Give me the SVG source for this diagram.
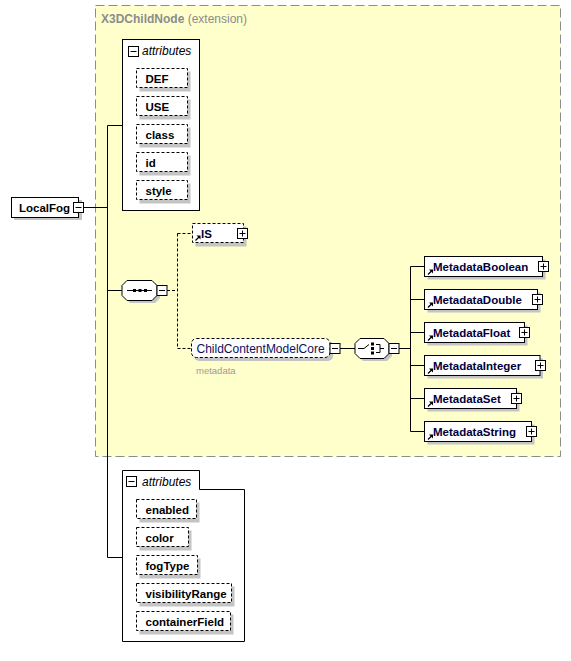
<svg xmlns="http://www.w3.org/2000/svg" width="571" height="661" viewBox="0 0 571 661">
<style>
.bg{fill:#fff}
.box{fill:#fff;stroke:#000;stroke-width:1}
.dbox{fill:#fff;stroke:#000;stroke-width:1;stroke-dasharray:3,2}
.sh{fill:#c4c4c4}
.ln{fill:none;stroke:#000;stroke-width:1}
.dl{fill:none;stroke:#000;stroke-width:1;stroke-dasharray:3,2}
.ic{fill:#fff;stroke:#000;stroke-width:1}
.b{font-family:"Liberation Sans",Arial,sans-serif;font-weight:bold;font-size:11.5px;fill:#000}
.n{font-family:"Liberation Sans",Arial,sans-serif;font-weight:bold;font-size:11.5px;fill:#00003c}
.it{font-family:"Liberation Sans",Arial,sans-serif;font-style:italic;font-size:12px;fill:#000}
</style>
<defs>
<g id="minus"><rect class="ic" x="0" y="0" width="10" height="10"/><path class="ln" d="M2,5H8"/></g>
<g id="plus"><rect class="ic" x="0" y="0" width="10" height="10"/><path class="ln" d="M2,5H8M5,2V8"/></g>
<g id="ref"><path d="M2.5,5.5L6,2" stroke="#000" stroke-width="1.2" fill="none"/><path d="M3.5,0.5H7.5V4.5Z" fill="#000"/></g>
</defs>
<rect width="571" height="661" fill="#fff"/>

<g id="X3DChildNode">
<rect x="95.5" y="5.5" width="465" height="451" fill="#ffffcc" stroke="#8c8c8c" stroke-width="1" stroke-dasharray="9,4"/>
<text x="101" y="23" font-family="Liberation Sans,Arial,sans-serif" font-size="12" fill="#8c8c8c"><tspan font-weight="bold">X3DChildNode</tspan> (extension)</text>
</g>

<g id="connectors">
<path class="ln" d="M83.5,207.5H107.5M107.5,125.5V557.5M107.5,125.5H122.5M107.5,290.5H122M107.5,557.5H122.5"/>
<path class="dl" d="M167,290.5H177.5M177.5,233.5V348.5M177.5,233.5H192M177.5,348.5H191"/>
<path class="ln" d="M340,348.5H355M399,348.5H410.5M410.5,266.5V431.5M410.5,266.5H424.5M410.5,299.5H424.5M410.5,332.5H424.5M410.5,365.5H424.5M410.5,398.5H424.5M410.5,431.5H424.5"/>
</g>

<g id="LocalFog">
<rect class="sh" x="14" y="200" width="68" height="20"/>
<rect class="box" x="11.5" y="197.5" width="67" height="20"/>
<text class="b" x="19" y="212">LocalFog</text>
<use href="#minus" x="73.5" y="202.5"/>
</g>

<g id="attributes1">
<rect class="box" x="122.5" y="39.5" width="77" height="171"/>
<use href="#minus" x="128.5" y="46.5"/>
<text class="it" x="142" y="55">attributes</text>
<g id="attr-DEF"><rect class="sh" x="139.5" y="71.5" width="51" height="20"/><rect class="dbox" x="136.5" y="68.5" width="51" height="19"/><text class="b" x="145.5" y="82.5">DEF</text></g>
<g id="attr-USE"><rect class="sh" x="139.5" y="99.5" width="51" height="20"/><rect class="dbox" x="136.5" y="96.5" width="51" height="19"/><text class="b" x="145.5" y="110.5">USE</text></g>
<g id="attr-class"><rect class="sh" x="139.5" y="127.5" width="51" height="20"/><rect class="dbox" x="136.5" y="124.5" width="51" height="19"/><text class="b" x="145.5" y="138.5">class</text></g>
<g id="attr-id"><rect class="sh" x="139.5" y="155.5" width="51" height="20"/><rect class="dbox" x="136.5" y="152.5" width="51" height="19"/><text class="b" x="145.5" y="166.5">id</text></g>
<g id="attr-style"><rect class="sh" x="139.5" y="183.5" width="51" height="20"/><rect class="dbox" x="136.5" y="180.5" width="51" height="19"/><text class="b" x="145.5" y="194.5">style</text></g>
</g>

<g id="sequence">
<polygon class="sh" points="130,283 155,283 160,288 160,298 155,303 130,303 125,298 125,288"/>
<polygon class="box" points="127,280.5 152,280.5 157,285.5 157,295.5 152,300.5 127,300.5 122,295.5 122,285.5"/>
<path class="ln" d="M127,290.5H152"/>
<rect x="133" y="289" width="3" height="3" fill="#000"/><rect x="138.5" y="289" width="3" height="3" fill="#000"/><rect x="144" y="289" width="3" height="3" fill="#000"/>
<use href="#minus" x="157" y="285.5"/>
</g>

<g id="IS">
<rect class="sh" x="195.5" y="226.5" width="51" height="20"/>
<rect class="dbox" x="192.5" y="223.5" width="51" height="19"/>
<use href="#ref" x="193" y="235"/>
<text class="n" x="201" y="238">IS</text>
<use href="#plus" x="237.5" y="228.5"/>
</g>

<g id="ChildContentModelCore">
<rect class="sh" x="194" y="341" width="139" height="20" rx="5"/>
<rect class="dbox" x="191.5" y="338.5" width="138.5" height="19" rx="5"/>
<text x="196.5" y="352.5" font-family="Liberation Sans,Arial,sans-serif" font-size="12" fill="#10105a">ChildContentModelCore</text>
<use href="#minus" x="330" y="343.5"/>
<text x="196" y="374" font-family="Liberation Sans,Arial,sans-serif" font-size="9.5" fill="#9a9a9a">metadata</text>
</g>

<g id="choice">
<polygon class="sh" points="363,341 387,341 392,346 392,356 387,361 363,361 358,356 358,346"/>
<polygon class="box" points="360,338.5 384,338.5 389,343.5 389,353.5 384,358.5 360,358.5 355,353.5 355,343.5"/>
<path class="ln" d="M358,348.5H364L369,344.5M376,344.5H380V352.5H376M380,348.5H384"/>
<rect x="371" y="342.5" width="3" height="3" fill="#000"/><rect x="371" y="347" width="3" height="3" fill="#000"/><rect x="371" y="351.5" width="3" height="3" fill="#000"/>
<use href="#minus" x="389" y="343.5"/>
</g>

<g id="MetadataBoolean"><rect class="sh" x="427.5" y="259.5" width="118" height="20"/><rect class="box" x="424.5" y="256.5" width="118" height="20"/><use href="#ref" x="425.5" y="269"/><text class="n" x="433" y="271">MetadataBoolean</text><use href="#plus" x="538.5" y="261.5"/></g>
<g id="MetadataDouble"><rect class="sh" x="427.5" y="292.5" width="113" height="20"/><rect class="box" x="424.5" y="289.5" width="113" height="20"/><use href="#ref" x="425.5" y="302"/><text class="n" x="433" y="304">MetadataDouble</text><use href="#plus" x="532.5" y="294.5"/></g>
<g id="MetadataFloat"><rect class="sh" x="427.5" y="325.5" width="100" height="20"/><rect class="box" x="424.5" y="322.5" width="100" height="20"/><use href="#ref" x="425.5" y="335"/><text class="n" x="433" y="337">MetadataFloat</text><use href="#plus" x="519.5" y="327.5"/></g>
<g id="MetadataInteger"><rect class="sh" x="427.5" y="358.5" width="115.5" height="20"/><rect class="box" x="424.5" y="355.5" width="115.5" height="20"/><use href="#ref" x="425.5" y="368"/><text class="n" x="433" y="370">MetadataInteger</text><use href="#plus" x="535.5" y="360.5"/></g>
<g id="MetadataSet"><rect class="sh" x="427.5" y="391.5" width="92" height="20"/><rect class="box" x="424.5" y="388.5" width="92" height="20"/><use href="#ref" x="425.5" y="401"/><text class="n" x="433" y="403">MetadataSet</text><use href="#plus" x="511.5" y="393.5"/></g>
<g id="MetadataString"><rect class="sh" x="427.5" y="424.5" width="107" height="20"/><rect class="box" x="424.5" y="421.5" width="107" height="20"/><use href="#ref" x="425.5" y="434"/><text class="n" x="433" y="436">MetadataString</text><use href="#plus" x="526.5" y="426.5"/></g>

<g id="attributes2">
<path class="box" d="M122.5,470.5H199.5V489.5H244.5V641.5H122.5Z"/>
<use href="#minus" x="126.5" y="476.5"/>
<text class="it" x="142" y="486">attributes</text>
<g id="attr-enabled"><rect class="sh" x="139.5" y="502.5" width="60" height="20"/><rect class="dbox" x="136.5" y="499.5" width="60" height="19"/><text class="b" x="145.5" y="513.5">enabled</text></g>
<g id="attr-color"><rect class="sh" x="139.5" y="530.5" width="52" height="20"/><rect class="dbox" x="136.5" y="527.5" width="52" height="19"/><text class="b" x="145.5" y="541.5">color</text></g>
<g id="attr-fogType"><rect class="sh" x="139.5" y="558.5" width="61" height="20"/><rect class="dbox" x="136.5" y="555.5" width="61" height="19"/><text class="b" x="145.5" y="569.5">fogType</text></g>
<g id="attr-visibilityRange"><rect class="sh" x="139.5" y="586.5" width="95" height="20"/><rect class="dbox" x="136.5" y="583.5" width="95" height="19"/><text class="b" x="145.5" y="597.5">visibilityRange</text></g>
<g id="attr-containerField"><rect class="sh" x="139.5" y="614.5" width="94" height="20"/><rect class="dbox" x="136.5" y="611.5" width="94" height="19"/><text class="b" x="145.5" y="625.5">containerField</text></g>
</g>
</svg>
